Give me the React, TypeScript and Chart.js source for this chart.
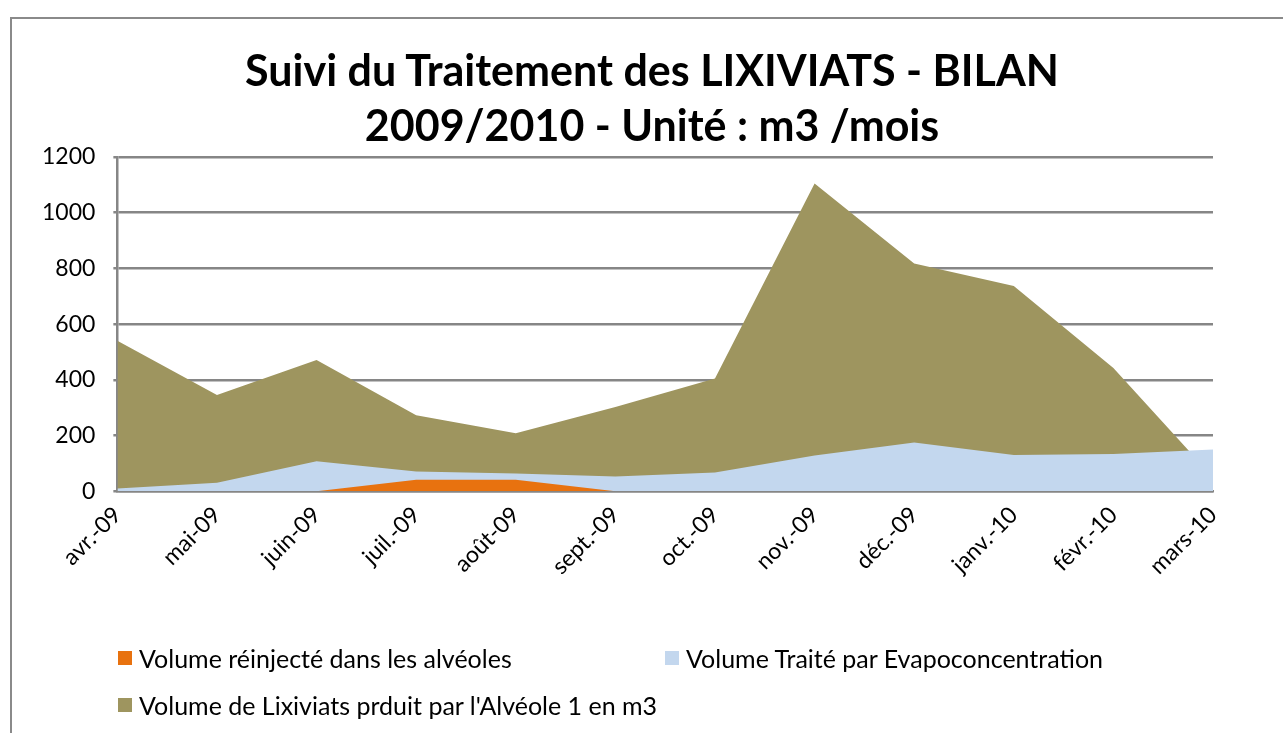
import React, { useEffect, useRef } from "react";
import { Chart, registerables } from "chart.js";

Chart.register(...registerables);

const months = [
  "avr.-09", "mai-09", "juin-09", "juil.-09", "août-09", "sept.-09",
  "oct.-09", "nov.-09", "déc.-09", "janv.-10", "févr.-10", "mars-10",
];
const reinjected = [0, 0, 0, 41, 41, 0, 0, 0, 0, 0, 0, 0];
const evapo = [10, 30, 108, 71, 64, 53, 67, 128, 175, 130, 134, 150];
const produced = [540, 345, 471, 273, 208, 302, 405, 1105, 818, 737, 442, 50];
const yTicks = [0, 200, 400, 600, 800, 1000, 1200];

const titleLines = ["Suivi du Traitement des LIXIVIATS - BILAN", "2009/2010 - Unité : m3 /mois"];
const seriesNames = [
  "Volume réinjecté dans les alvéoles",
  "Volume Traité par Evapoconcentration",
  "Volume de Lixiviats prduit par l'Alvéole 1 en m3",
];
const colors = ["#E8720F", "#C3D7EE", "#9E955F"];

const FONT = "Lato, 'Open Sans', sans-serif";

export default function App() {
  const ref = useRef<HTMLCanvasElement | null>(null);

  useEffect(() => {
    if (!ref.current) return;
    const chart = new Chart(ref.current, {
      type: "line",
      data: {
        labels: months,
        datasets: [
          { label: seriesNames[0], data: reinjected, backgroundColor: colors[0], borderWidth: 0, pointRadius: 0, fill: "origin" },
          { label: seriesNames[1], data: evapo, backgroundColor: colors[1], borderWidth: 0, pointRadius: 0, fill: "origin" },
          { label: seriesNames[2], data: produced, backgroundColor: colors[2], borderWidth: 0, pointRadius: 0, fill: "origin" },
        ],
      },
      options: {
        responsive: false,
        animation: false,
        layout: { padding: { left: 24, right: 70, top: 157, bottom: 143 } },
        plugins: {
          legend: { display: false },
          tooltip: { enabled: false },
          title: { display: false },
        },
        scales: {
          x: {
            offset: false,
            grid: { display: false, drawTicks: false },
            border: { display: true, color: "#868686", width: 2.5 },
            ticks: {
              color: "#000",
              font: { family: FONT, size: 23 },
              maxRotation: 45,
              minRotation: 45,
              padding: 10,
              autoSkip: false,
            },
          },
          y: {
            min: 0,
            max: 1200,
            afterBuildTicks: (axis: any) => {
              axis.ticks = yTicks.map((v) => ({ value: v }));
            },
            grid: { color: "#868686", lineWidth: 2.5, tickLength: 4, drawTicks: true },
            border: { display: true, color: "#868686", width: 2.5 },
            ticks: {
              color: "#000",
              font: { family: FONT, size: 23 },
              padding: 18,
              callback: (v: any) => String(v),
            },
          },
        },
      },
    });
    return () => chart.destroy();
  }, []);

  const legendItem = (i: number, left: number, top: number) => (
    <div
      key={i}
      style={{
        position: "absolute",
        left,
        top,
        display: "flex",
        alignItems: "center",
        fontFamily: FONT,
        fontSize: 25,
        color: "#000",
        whiteSpace: "nowrap",
      }}
    >
      <span style={{ display: "inline-block", width: 14, height: 14, background: colors[i], marginRight: 7 }} />
      {seriesNames[i]}
    </div>
  );

  return (
    <div style={{ position: "absolute", left: 0, top: 0, width: 1283, height: 733, background: "#fff", overflow: "hidden" }}>
      <div
        style={{
          position: "absolute",
          left: 10,
          top: 17,
          width: 1283,
          height: 733,
          borderLeft: "2px solid #8a8a8a",
          borderTop: "2px solid #8a8a8a",
        }}
      />
      <canvas ref={ref} width={1283} height={733} style={{ position: "absolute", left: 0, top: 0 }} />
      {titleLines.map((t, i) => (
        <div
          key={t}
          style={{
            position: "absolute",
            left: 652 - 600,
            width: 1200,
            top: 70 + i * 55 - 28,
            height: 56,
            lineHeight: "56px",
            textAlign: "center",
            fontFamily: FONT,
            fontWeight: "bold",
            fontSize: 43,
            color: "#000",
            whiteSpace: "nowrap",
          }}
        >
          {t}
        </div>
      ))}
      {legendItem(0, 118, 643)}
      {legendItem(1, 665, 643)}
      {legendItem(2, 118, 690)}
    </div>
  );
}
